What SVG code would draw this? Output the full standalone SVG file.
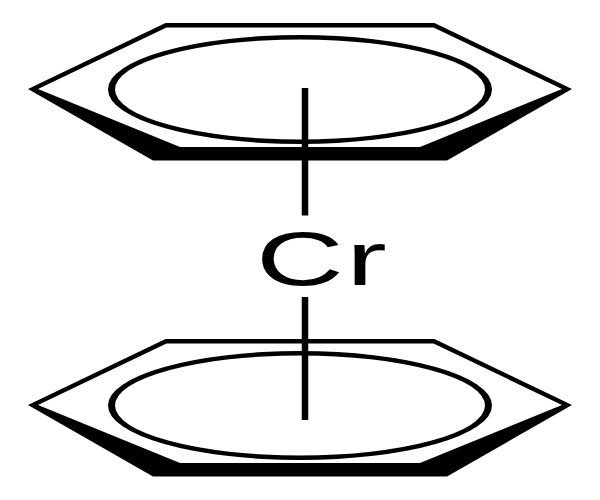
<svg xmlns="http://www.w3.org/2000/svg" width="600" height="500" viewBox="0 0 600 500">
<style>
.ring{fill:#000;fill-rule:evenodd}
.bond{stroke:#000;stroke-width:6.5;fill:none}
.label{font-family:"Liberation Sans",Arial,sans-serif;font-size:76px;letter-spacing:1.500px;fill:#000}
</style>
<defs>
<path id="hex" class="ring" d="M28 89L165.500 23H434.500L572 89L447 160.500H153ZM38 89L180 147H420L562 89L433.500 27.500H166.500Z"/>
<path id="circle" class="ring" d="M108 89.500A192 54.500 0 1 1 492 89.500A192 54.500 0 1 1 108 89.500ZM115 89.500A185 50 0 1 0 485 89.500A185 50 0 1 0 115 89.500Z"/>
</defs>
<rect width="600" height="500" fill="#fff"/>
<g id="ring-top"><use href="#hex"/><use href="#circle"/></g>
<g id="ring-bottom" transform="translate(0 316)"><use href="#hex"/><use href="#circle"/></g>
<g id="metal"><text class="label" transform="translate(256 285) scale(1.6 1)">Cr</text></g>
<g id="connectors">
<path class="bond" d="M305 88V215.500"/>
<path class="bond" d="M305 297V420"/>
</g>
</svg>
